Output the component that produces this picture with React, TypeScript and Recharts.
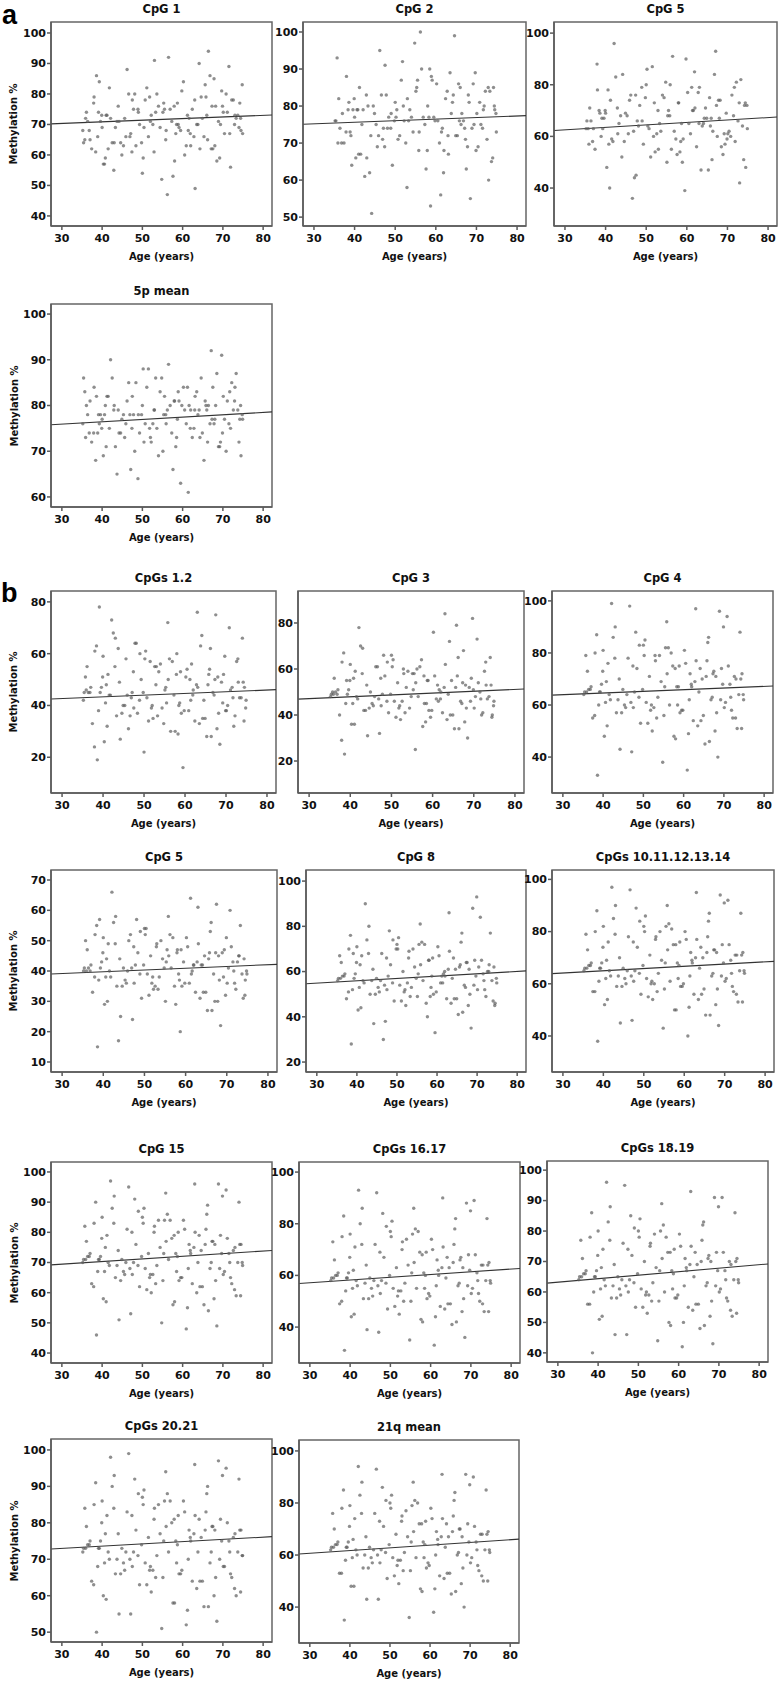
import React from 'react';
import { ScatterChart, Scatter, XAxis, YAxis, ReferenceLine, ReferenceArea } from 'recharts';

// ---- data ----
// ages of the subjects (same subjects in every panel)
const ages = [
  35.2, 36.1, 37.4, 38.0, 38.9, 39.6, 40.3, 41.2, 41.8, 42.5, 43.3, 44.0,
  44.9, 45.6, 46.2, 47.1, 47.8, 48.4, 49.3, 50.0, 50.7, 51.5, 52.2, 52.9,
  53.6, 54.4, 55.1, 55.8, 56.5, 57.3, 58.0, 58.7, 59.5, 60.2, 60.9, 61.6,
  62.4, 63.1, 63.8, 64.6, 65.3, 66.0, 66.8, 67.5, 68.2, 68.9, 69.7, 70.4,
  71.1, 71.9, 72.6, 73.3, 74.0, 74.8, 35.7, 37.9, 40.8, 43.7, 46.6, 49.8,
  52.6, 55.5, 58.3, 61.2, 64.1, 67.1, 69.9, 72.9, 74.5, 39.1, 54.8, 65.8,
  36.4, 44.6, 57.9, 69.2, 40.0, 51.1, 62.8, 73.7, 38.4, 47.5, 55.9, 66.4,
  35.9, 42.9, 53.3, 61.9, 70.8, 45.3, 58.9, 67.8, 37.0, 48.9, 56.2, 64.9,
  74.2, 41.5, 50.4, 59.8, 68.5, 39.9, 46.9, 54.0, 63.5, 71.5, 43.0, 52.0,
  60.5, 72.2, 36.8, 49.0, 57.6, 65.6, 74.9, 42.1, 51.8, 62.0, 69.4, 38.6,
  45.9, 56.9, 64.3, 73.0, 40.6, 48.1, 59.1, 67.3, 35.4, 44.2, 53.0, 61.4,
  70.1, 47.4, 55.3, 66.2, 74.4, 39.3, 50.2, 58.5, 63.0, 71.7, 41.0, 68.0,
];
const xTicks = [30, 40, 50, 60, 70, 80];

const cpg1 = [
  68, 74, 62, 79, 66, 71, 57, 73, 82, 64, 69, 76,
  60, 72, 88, 67, 75, 63, 70, 54, 78, 66, 73, 61,
  80, 69, 74, 65, 92, 71, 58, 77, 68, 84, 63, 72,
  75, 49, 70, 79, 66, 73, 86, 62, 76, 71, 81, 67,
  74, 56, 78, 72, 69, 83, 65, 77, 59, 71, 80, 64,
  70, 75, 67, 73, 90, 62, 76, 70, 68, 74, 52, 79,
  71, 64, 76, 59, 69, 82, 66, 73, 61, 78, 68, 94,
  72, 55, 74, 67, 80, 63, 70, 85, 65, 75, 47, 72,
  77, 62, 69, 81, 58, 73, 66, 76, 70, 89, 64, 71,
  60, 78, 68, 74, 53, 83, 67, 72, 79, 63, 70, 86,
  66, 75, 62, 73, 57, 80, 69, 76, 64, 71, 91, 68,
  74, 61, 77, 65, 72, 84, 59, 70, 78, 67, 73, 63,
];
const cpg2 = [
  76, 82, 70, 88, 73, 79, 66, 85, 75, 61, 80, 72,
  78, 69, 95, 74, 83, 77, 64, 81, 71, 87, 76, 58,
  79, 73, 84, 68, 90, 75, 80, 53, 77, 86, 70, 74,
  82, 67, 78, 99, 72, 85, 76, 63, 81, 74, 89, 69,
  75, 80, 71, 84, 66, 78, 93, 73, 79, 62, 83, 76,
  70, 87, 77, 56, 81, 74, 68, 85, 79, 72, 97, 76,
  74, 80, 68, 86, 77, 72, 84, 65, 79, 91, 73, 78,
  70, 83, 76, 62, 81, 75, 88, 69, 78, 74, 100, 72,
  85, 67, 79, 76, 55, 82, 71, 77, 89, 74, 66, 80,
  76, 84, 70, 78, 63, 86, 73, 79, 92, 68, 75, 81,
  72, 77, 83, 60, 79, 74, 87, 71, 76, 51, 82, 73,
  78, 69, 85, 75, 80, 64, 77, 90, 72, 79, 67, 83,
];
const cpg5a = [
  63, 71, 55, 78, 60, 67, 48, 74, 58, 83, 65, 52,
  69, 61, 76, 44, 66, 72, 57, 80, 63, 87, 54, 70,
  62, 75, 50, 68, 91, 59, 73, 65, 39, 77, 61, 70,
  56, 79, 64, 71, 47, 67, 84, 60, 74, 53, 69, 62,
  76, 58, 66, 82, 51, 72, 63, 88, 57, 68, 36, 75,
  61, 70, 54, 79, 65, 93, 59, 73, 48, 67, 81, 64,
  66, 58, 73, 61, 69, 52, 77, 64, 70, 45, 80, 62,
  57, 71, 65, 85, 60, 68, 50, 74, 63, 79, 55, 67,
  72, 59, 64, 90, 56, 70, 62, 76, 47, 68, 61, 73,
  65, 81, 58, 66, 53, 75, 63, 96, 60, 71, 57, 69,
  74, 62, 67, 42, 78, 64, 59, 72, 66, 84, 55, 70,
  61, 76, 68, 51, 73, 63, 86, 58, 65, 79, 40, 67,
];
const mean5p = [
  76, 80, 72, 84, 74, 78, 69, 82, 75, 86, 71, 79,
  77, 73, 81, 66, 78, 85, 74, 80, 76, 88, 72, 79,
  75, 83, 70, 78, 89, 74, 81, 77, 63, 84, 76, 80,
  73, 82, 78, 86, 68, 79, 76, 84, 80, 71, 91, 77,
  81, 75, 79, 87, 72, 78, 83, 74, 80, 65, 85, 78,
  76, 82, 71, 84, 79, 92, 74, 81, 69, 78, 86, 80,
  78, 74, 81, 71, 77, 84, 75, 79, 68, 82, 76, 80,
  73, 79, 86, 75, 70, 78, 83, 76, 81, 64, 79, 74,
  77, 82, 72, 80, 87, 75, 78, 69, 83, 76, 80, 73,
  79, 85, 74, 78, 66, 81, 77, 90, 75, 79, 72, 82,
  76, 80, 73, 84, 78, 70, 81, 77, 86, 74, 79, 61,
  82, 75, 78, 72, 80, 76, 88, 73, 79, 83, 71, 77,
];
const cpgs12 = [
  42, 55, 33, 61, 38, 47, 26, 52, 44, 68, 36, 49,
  40, 58, 31, 45, 64, 37, 50, 22, 43, 57, 35, 48,
  53, 39, 46, 72, 30, 44, 60, 41, 16, 51, 38, 56,
  34, 47, 63, 42, 28, 54, 45, 75, 37, 49, 59, 40,
  46, 32, 57, 43, 66, 39, 51, 24, 48, 62, 36, 45,
  55, 41, 29, 50, 67, 44, 38, 58, 47, 78, 33, 52,
  45, 37, 52, 41, 59, 34, 48, 43, 63, 39, 50, 28,
  46, 55, 36, 44, 70, 40, 53, 31, 47, 42, 58, 35,
  49, 44, 61, 38, 25, 51, 43, 56, 33, 47, 66, 40,
  54, 36, 45, 60, 30, 48, 42, 73, 39, 46, 52, 19,
  44, 57, 35, 49, 41, 64, 37, 50, 45, 27, 55, 42,
  38, 53, 47, 62, 34, 45, 58, 40, 76, 43, 32, 51,
];
const cpg3 = [
  48, 56, 40, 63, 45, 51, 36, 59, 47, 70, 42, 53,
  50, 44, 61, 32, 49, 57, 41, 66, 46, 54, 38, 60,
  52, 43, 58, 25, 48, 64, 45, 55, 39, 76, 47, 51,
  41, 62, 49, 55, 34, 57, 46, 68, 43, 52, 82, 48,
  54, 40, 59, 47, 65, 44, 50, 29, 56, 42, 61, 49,
  46, 58, 37, 53, 72, 45, 51, 63, 40, 55, 48, 79,
  50, 43, 57, 46, 62, 39, 52, 48, 67, 44, 54, 34,
  49, 58, 41, 47, 73, 45, 55, 37, 51, 46, 60, 40,
  53, 48, 64, 42, 30, 55, 47, 59, 38, 50, 69, 44,
  57, 41, 49, 63, 35, 52, 46, 78, 43, 50, 56, 23,
  48, 61, 40, 53, 45, 66, 42, 54, 49, 31, 58, 46,
  43, 56, 51, 65, 39, 49, 61, 45, 84, 47, 36, 53,
];
const cpg4 = [
  64, 73, 55, 80, 60, 68, 48, 76, 62, 86, 57, 70,
  66, 59, 78, 42, 65, 74, 53, 83, 61, 71, 50, 79,
  63, 69, 56, 92, 60, 75, 47, 67, 58, 81, 35, 72,
  54, 77, 65, 70, 45, 84, 62, 73, 57, 96, 68, 61,
  75, 58, 71, 51, 88, 64, 79, 56, 69, 62, 98, 66,
  59, 82, 67, 49, 74, 63, 90, 55, 72, 65, 38, 77,
  66, 57, 74, 62, 81, 53, 69, 64, 87, 59, 72, 46,
  65, 78, 55, 68, 94, 60, 75, 50, 67, 63, 82, 56,
  70, 64, 85, 58, 40, 73, 61, 79, 52, 68, 90, 60,
  76, 55, 66, 83, 48, 71, 62, 99, 58, 67, 74, 33,
  64, 80, 54, 70, 61, 88, 57, 72, 65, 43, 77, 62,
  59, 75, 67, 86, 51, 65, 79, 60, 97, 63, 52, 71,
];
const cpg5b = [
  40, 47, 33, 52, 37, 43, 29, 49, 38, 56, 35, 44,
  41, 36, 50, 24, 42, 46, 31, 54, 39, 45, 34, 48,
  38, 44, 30, 58, 41, 35, 47, 20, 43, 51, 36, 40,
  33, 49, 42, 45, 27, 53, 39, 62, 37, 46, 32, 41,
  48, 36, 43, 55, 31, 40, 50, 38, 44, 17, 52, 42,
  35, 47, 39, 64, 42, 30, 51, 45, 37, 57, 41, 46,
  41, 35, 46, 38, 51, 32, 43, 39, 55, 36, 45, 27,
  40, 49, 34, 42, 60, 37, 47, 30, 42, 39, 52, 33,
  44, 40, 54, 36, 22, 46, 41, 50, 31, 43, 58, 38,
  48, 34, 40, 53, 29, 44, 39, 66, 36, 42, 47, 15,
  40, 51, 33, 45, 38, 57, 35, 46, 41, 25, 49, 39,
  36, 48, 43, 56, 32, 41, 52, 37, 61, 40, 30, 45,
];
const cpg8 = [
  56, 64, 48, 70, 52, 59, 43, 67, 55, 74, 50, 61,
  57, 51, 68, 38, 58, 63, 47, 72, 54, 60, 45, 66,
  53, 62, 49, 81, 56, 46, 65, 58, 33, 71, 55, 59,
  48, 69, 57, 61, 41, 73, 54, 64, 50, 88, 58, 62,
  65, 52, 60, 77, 47, 57, 67, 51, 63, 56, 30, 70,
  55, 72, 49, 58, 66, 53, 93, 60, 46, 68, 57, 63,
  58, 50, 65, 54, 71, 47, 61, 56, 76, 52, 63, 42,
  57, 68, 49, 60, 84, 53, 66, 45, 59, 55, 73, 48,
  62, 56, 75, 51, 35, 64, 54, 70, 46, 59, 80, 52,
  67, 49, 58, 74, 40, 62, 55, 90, 51, 58, 65, 28,
  56, 72, 48, 63, 53, 78, 50, 64, 57, 37, 69, 55,
  52, 66, 59, 77, 45, 57, 70, 53, 86, 56, 44, 61,
];
const cpgs10to14 = [
  65, 73, 57, 80, 61, 68, 52, 76, 63, 85, 59, 70,
  66, 60, 78, 46, 65, 74, 56, 82, 62, 71, 54, 77,
  64, 69, 58, 90, 61, 75, 50, 67, 59, 80, 40, 72,
  56, 77, 66, 70, 48, 84, 63, 73, 58, 94, 68, 62,
  75, 59, 71, 53, 87, 65, 79, 57, 69, 63, 96, 67,
  60, 82, 68, 51, 74, 64, 91, 56, 72, 66, 43, 78,
  67, 59, 75, 63, 82, 55, 70, 65, 88, 61, 73, 48,
  66, 79, 57, 69, 92, 62, 76, 52, 68, 64, 83, 58,
  71, 65, 86, 60, 44, 74, 63, 80, 54, 69, 90, 61,
  77, 57, 67, 84, 50, 72, 64, 97, 60, 68, 75, 38,
  65, 81, 56, 71, 62, 89, 59, 73, 66, 45, 78, 63,
  61, 76, 68, 87, 53, 66, 80, 62, 95, 64, 54, 72,
];
const cpg15 = [
  70, 77, 63, 83, 67, 72, 58, 79, 69, 88, 65, 74,
  71, 66, 81, 53, 70, 76, 62, 85, 68, 73, 60, 80,
  69, 75, 64, 93, 71, 78, 57, 72, 65, 84, 48, 76,
  63, 80, 70, 74, 56, 86, 68, 77, 64, 96, 73, 67,
  78, 65, 74, 59, 90, 70, 82, 62, 75, 69, 95, 72,
  66, 84, 73, 55, 79, 70, 92, 61, 76, 71, 50, 81,
  72, 64, 79, 68, 85, 61, 75, 70, 90, 66, 77, 54,
  71, 83, 63, 74, 94, 67, 80, 58, 73, 69, 86, 62,
  76, 70, 88, 65, 49, 78, 68, 84, 60, 73, 92, 66,
  81, 63, 72, 87, 56, 76, 69, 97, 65, 73, 79, 46,
  70, 84, 62, 75, 67, 91, 64, 77, 71, 51, 82, 68,
  66, 80, 73, 89, 59, 71, 83, 67, 96, 70, 57, 76,
];
const cpgs1617 = [
  58, 66, 49, 75, 54, 61, 44, 71, 56, 80, 51, 64,
  59, 52, 72, 38, 58, 67, 47, 77, 55, 63, 45, 70,
  57, 64, 50, 86, 55, 69, 42, 60, 53, 74, 33, 66,
  48, 71, 59, 63, 41, 78, 56, 67, 51, 88, 62, 55,
  68, 53, 64, 46, 82, 58, 73, 50, 62, 57, 92, 60,
  54, 76, 61, 44, 67, 57, 85, 49, 65, 59, 35, 72,
  60, 51, 68, 56, 76, 48, 63, 58, 83, 53, 65, 42,
  59, 72, 50, 62, 89, 55, 69, 46, 61, 57, 78, 49,
  64, 58, 81, 52, 36, 67, 56, 74, 47, 61, 86, 54,
  70, 50, 60, 79, 43, 65, 57, 93, 52, 60, 68, 31,
  58, 77, 49, 64, 55, 84, 51, 66, 59, 39, 73, 56,
  53, 69, 61, 82, 46, 59, 75, 55, 90, 58, 45, 63,
];
const cpgs1819 = [
  64, 71, 56, 78, 60, 67, 51, 74, 62, 83, 58, 69,
  65, 59, 76, 46, 64, 72, 55, 80, 61, 70, 53, 75,
  63, 68, 57, 89, 60, 73, 49, 66, 58, 79, 42, 71,
  55, 75, 65, 69, 48, 82, 62, 72, 57, 91, 67, 61,
  73, 58, 70, 52, 86, 64, 77, 56, 68, 62, 95, 66,
  59, 80, 67, 50, 73, 63, 88, 54, 71, 65, 44, 77,
  66, 58, 73, 62, 80, 55, 69, 64, 86, 60, 71, 49,
  65, 77, 57, 68, 91, 61, 74, 52, 67, 63, 82, 56,
  70, 64, 84, 59, 43, 72, 62, 79, 54, 67, 88, 60,
  75, 57, 66, 81, 50, 70, 63, 96, 59, 67, 73, 40,
  64, 78, 56, 69, 61, 85, 58, 71, 65, 46, 76, 62,
  60, 74, 67, 83, 53, 65, 78, 61, 93, 64, 52, 70,
];
const cpgs2021 = [
  72, 79, 64, 85, 68, 75, 60, 82, 70, 90, 66, 77,
  73, 67, 83, 55, 72, 78, 63, 87, 69, 76, 61, 81,
  71, 77, 65, 94, 72, 80, 58, 74, 66, 86, 52, 78,
  64, 82, 72, 76, 57, 88, 69, 79, 65, 97, 75, 68,
  80, 66, 76, 60, 92, 71, 84, 63, 77, 70, 99, 74,
  67, 86, 75, 56, 81, 72, 93, 62, 78, 73, 51, 83,
  74, 66, 81, 70, 86, 63, 77, 72, 91, 68, 79, 57,
  73, 84, 65, 76, 95, 69, 82, 60, 75, 71, 88, 64,
  78, 72, 89, 67, 53, 80, 70, 85, 62, 75, 93, 68,
  83, 65, 74, 88, 58, 78, 71, 98, 67, 75, 81, 50,
  72, 86, 64, 77, 69, 92, 66, 79, 73, 55, 84, 70,
  68, 82, 75, 90, 61, 73, 85, 69, 96, 72, 59, 78,
];
const mean21q = [
  62, 70, 53, 78, 58, 65, 48, 74, 60, 83, 55, 67,
  63, 57, 76, 43, 62, 71, 51, 80, 59, 68, 49, 73,
  61, 67, 54, 88, 59, 72, 46, 64, 57, 78, 38, 69,
  52, 74, 63, 67, 45, 81, 60, 70, 55, 91, 65, 59,
  71, 56, 68, 50, 85, 62, 76, 53, 66, 60, 93, 64,
  58, 79, 65, 47, 72, 61, 87, 52, 69, 63, 36, 75,
  64, 55, 72, 60, 79, 52, 67, 62, 85, 57, 69, 46,
  63, 76, 54, 66, 90, 59, 73, 49, 65, 61, 81, 53,
  68, 62, 83, 56, 40, 71, 60, 77, 51, 65, 88, 58,
  74, 54, 64, 81, 47, 69, 61, 94, 56, 64, 72, 35,
  62, 80, 53, 68, 59, 86, 55, 70, 63, 43, 75, 60,
  57, 73, 65, 84, 50, 63, 78, 59, 91, 62, 48, 67,
];

// regression line values at the left and right ends of the age axis
const fits: Record<string, [number, number]> = {
  cpg1: [70.2, 73.1],
  cpg2: [75.1, 77.4],
  cpg5a: [62.3, 67.5],
  mean5p: [75.8, 78.6],
  cpgs12: [42.5, 46.1],
  cpg3: [46.9, 51.3],
  cpg4: [63.8, 67.3],
  cpg5b: [39.0, 42.2],
  cpg8: [54.6, 60.3],
  cpgs10to14: [63.9, 68.6],
  cpg15: [69.2, 74.0],
  cpgs1617: [56.9, 62.7],
  cpgs1819: [62.9, 69.2],
  cpgs2021: [72.8, 76.2],
  mean21q: [60.4, 66.1],
};

// ---- layout / style ----
const FONT = '"DejaVu Sans", Verdana, sans-serif';
const X_DOMAIN: [number, number] = [27.3, 82.2];

type PanelDef = {
  title: string;
  values: number[];
  fit: [number, number];
  yDomain: [number, number];
  yTicks: number[];
  left: number;
  top: number;
  width: number;
  height: number;
  yLabel?: boolean;
};

const panels: PanelDef[] = [
  { title: 'CpG 1', values: cpg1, fit: fits.cpg1, yDomain: [36.7, 103.6], yTicks: [40, 50, 60, 70, 80, 90, 100], left: 51, top: 22, width: 221, height: 204, yLabel: true },
  { title: 'CpG 2', values: cpg2, fit: fits.cpg2, yDomain: [47.6, 102.7], yTicks: [50, 60, 70, 80, 90, 100], left: 303, top: 22, width: 223, height: 204 },
  { title: 'CpG 5', values: cpg5a, fit: fits.cpg5a, yDomain: [25.3, 104.3], yTicks: [40, 60, 80, 100], left: 554, top: 22, width: 223, height: 204 },
  { title: '5p mean', values: mean5p, fit: fits.mean5p, yDomain: [57.8, 102.2], yTicks: [60, 70, 80, 90, 100], left: 51, top: 304, width: 221, height: 203, yLabel: true },
  { title: 'CpGs 1.2', values: cpgs12, fit: fits.cpgs12, yDomain: [6.2, 84.2], yTicks: [20, 40, 60, 80], left: 51, top: 591, width: 225, height: 202, yLabel: true },
  { title: 'CpG 3', values: cpg3, fit: fits.cpg3, yDomain: [6.1, 93.9], yTicks: [20, 40, 60, 80], left: 298, top: 591, width: 226, height: 202 },
  { title: 'CpG 4', values: cpg4, fit: fits.cpg4, yDomain: [26.2, 103.8], yTicks: [40, 60, 80, 100], left: 552, top: 591, width: 221, height: 202 },
  { title: 'CpG 5', values: cpg5b, fit: fits.cpg5b, yDomain: [6.7, 73.3], yTicks: [10, 20, 30, 40, 50, 60, 70], left: 51, top: 870, width: 226, height: 202, yLabel: true },
  { title: 'CpG 8', values: cpg8, fit: fits.cpg8, yDomain: [15.6, 104.9], yTicks: [20, 40, 60, 80, 100], left: 306, top: 870, width: 220, height: 202 },
  { title: 'CpGs 10.11.12.13.14', values: cpgs10to14, fit: fits.cpgs10to14, yDomain: [26.2, 103.6], yTicks: [40, 60, 80, 100], left: 552, top: 870, width: 222, height: 202 },
  { title: 'CpG 15', values: cpg15, fit: fits.cpg15, yDomain: [36.7, 103.3], yTicks: [40, 50, 60, 70, 80, 90, 100], left: 51, top: 1162, width: 221, height: 201, yLabel: true },
  { title: 'CpGs 16.17', values: cpgs1617, fit: fits.cpgs1617, yDomain: [26.1, 103.9], yTicks: [40, 60, 80, 100], left: 299, top: 1162, width: 221, height: 201 },
  { title: 'CpGs 18.19', values: cpgs1819, fit: fits.cpgs1819, yDomain: [37, 103], yTicks: [40, 50, 60, 70, 80, 90, 100], left: 547, top: 1161, width: 221, height: 201 },
  { title: 'CpGs 20.21', values: cpgs2021, fit: fits.cpgs2021, yDomain: [47.3, 103], yTicks: [50, 60, 70, 80, 90, 100], left: 51, top: 1439, width: 221, height: 203, yLabel: true },
  { title: '21q mean', values: mean21q, fit: fits.mean21q, yDomain: [26.2, 104.2], yTicks: [40, 60, 80, 100], left: 299, top: 1440, width: 220, height: 203 },
];

const tickStyle = { fill: '#111', fontSize: 11, fontWeight: 700, fontFamily: FONT };

const Dot = (p: any) => {
  if (p.cx == null || p.cy == null) return null;
  return <circle cx={p.cx} cy={p.cy} r={1.7} fill="#5e5e5e" fillOpacity={0.7} />;
};

const ML = 50;
const MT = 25;
const MB = 45;
const MR = 10;

function Panel({ def }: { def: PanelDef }) {
  const data = ages
    .map((a, i) => ({ age: a, v: def.values[i] }))
    .filter((d) => typeof d.v === 'number');
  const textBase: React.CSSProperties = {
    position: 'absolute',
    fontFamily: FONT,
    fontWeight: 700,
    color: '#111',
    textAlign: 'center',
    whiteSpace: 'nowrap',
  };
  return (
    <>
      <div style={{ position: 'absolute', left: def.left - ML, top: def.top - MT }}>
        <ScatterChart
          width={def.width + ML + MR}
          height={def.height + MT + MB}
          margin={{ top: MT, right: MR, left: 0, bottom: 0 }}
        >
          <XAxis
            type="number"
            dataKey="age"
            domain={X_DOMAIN}
            ticks={xTicks}
            interval={0}
            allowDataOverflow
            height={MB}
            tickSize={4}
            tickMargin={4}
            stroke="#5a5a5a"
            strokeWidth={1.5}
            tick={tickStyle}
          />
          <YAxis
            type="number"
            dataKey="v"
            domain={def.yDomain}
            ticks={def.yTicks}
            interval={0}
            allowDataOverflow
            width={ML}
            tickSize={4}
            tickMargin={1}
            stroke="#5a5a5a"
            strokeWidth={1.5}
            tick={tickStyle}
          />
          <ReferenceArea
            x1={X_DOMAIN[0]}
            x2={X_DOMAIN[1]}
            y1={def.yDomain[0]}
            y2={def.yDomain[1]}
            fill="none"
            fillOpacity={0}
            stroke="#666"
            strokeWidth={1.5}
            strokeOpacity={1}
            ifOverflow="visible"
          />
          <Scatter data={data} shape={Dot} isAnimationActive={false} />
          <ReferenceLine
            segment={[
              { x: X_DOMAIN[0], y: def.fit[0] },
              { x: X_DOMAIN[1], y: def.fit[1] },
            ]}
            stroke="#333"
            strokeWidth={1.1}
            ifOverflow="visible"
          />
        </ScatterChart>
      </div>
      <div
        style={{
          ...textBase,
          left: def.left,
          width: def.width,
          top: def.top - 13 - 8,
          height: 16,
          lineHeight: '16px',
          fontSize: 11.5,
        }}
      >
        {def.title}
      </div>
      <div
        style={{
          ...textBase,
          left: def.left,
          width: def.width,
          top: def.top + def.height + 31 - 7,
          height: 14,
          lineHeight: '14px',
          fontSize: 10,
        }}
      >
        Age (years)
      </div>
      {def.yLabel && (
        <div
          style={{
            ...textBase,
            left: def.left - 37 - def.height / 2,
            top: def.top + def.height / 2 - 7,
            width: def.height,
            height: 14,
            lineHeight: '14px',
            fontSize: 10,
            transform: 'rotate(-90deg)',
            transformOrigin: 'center center',
          }}
        >
          Methylation %
        </div>
      )}
    </>
  );
}

export default function App() {
  const letter: React.CSSProperties = {
    position: 'absolute',
    fontFamily: '"Liberation Sans", Arial, sans-serif',
    fontWeight: 700,
    fontSize: 27,
    lineHeight: '27px',
    color: '#000',
  };
  return (
    <div
      style={{
        position: 'absolute',
        left: 0,
        top: 0,
        width: 780,
        height: 1684,
        background: '#fff',
        overflow: 'hidden',
      }}
    >
      <div style={{ ...letter, left: 2, top: 2 }}>a</div>
      <div style={{ ...letter, left: 1, top: 580 }}>b</div>
      {panels.map((p, i) => (
        <Panel key={i} def={p} />
      ))}
    </div>
  );
}
